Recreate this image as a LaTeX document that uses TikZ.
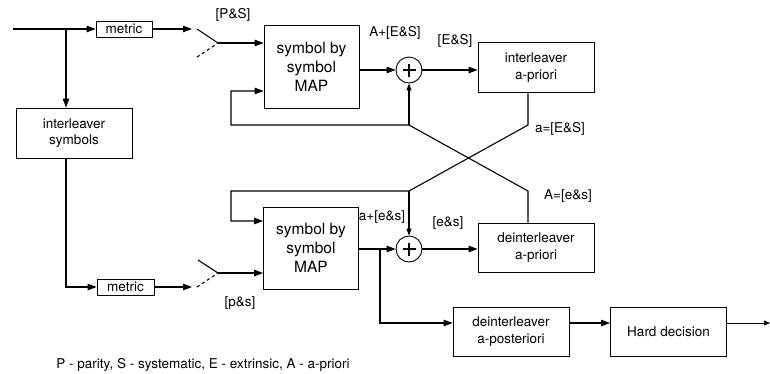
\documentclass[tikz,border=0pt]{standalone}
\usepackage{fontspec}
\setmainfont{TeX Gyre Heros}
\usetikzlibrary{arrows.meta}
\begin{document}
\begin{tikzpicture}[x=1pt,y=-1pt,
  txt/.style={font=\fontsize{13.5}{16.5}\selectfont},
  box/.style={draw, line width=0.8pt, inner sep=0pt, align=center, txt},
  mapbox/.style={box, minimum width=95pt, minimum height=82pt,
                 font=\fontsize{15.5}{19}\selectfont},
  lbl/.style={txt, inner sep=0pt},
  wire/.style={line width=1.1pt},
  arr/.style={wire, -{Triangle[length=9pt,width=6.5pt]}},
  arrs/.style={wire, -{Triangle[length=7pt,width=5pt]}},
  sumnode/.style={draw, circle, line width=0.9pt, minimum size=26pt, inner sep=0pt,
    path picture={\draw[line width=1.4pt]
      ([xshift=-6.5pt]path picture bounding box.center) -- ([xshift=6.5pt]path picture bounding box.center)
      ([yshift=-6.5pt]path picture bounding box.center) -- ([yshift=6.5pt]path picture bounding box.center);}}]
\useasboundingbox (0,0) rectangle (770,373);

% blocks
\node[box, minimum width=56pt, minimum height=16pt] (metricA) at (124,29) {metric};
\node[box, minimum width=57pt, minimum height=16pt] (metricB) at (125.5,287) {metric};
\node[box, minimum width=116pt, minimum height=50pt] (intsym) at (74,133) {interleaver\\symbols};
\node[mapbox, minimum height=83pt] (map1) at (311.5,66.5) {symbol by\\symbol\\MAP};
\node[mapbox] (map2) at (311,248) {symbol by\\symbol\\MAP};
\node[sumnode] (sum1) at (409,70) {};
\node[sumnode] (sum2) at (409,249) {};
\node[box, minimum width=116pt, minimum height=50pt] (intapr) at (536,67.5) {interleaver\\a-priori};
\node[box, minimum width=116pt, minimum height=49pt] (deintapr) at (536,247.5) {deinterleaver\\a-priori};
\node[box, minimum width=116pt, minimum height=49pt] (deintpost) at (511,331.5) {deinterleaver\\a-posteriori};
\node[box, minimum width=116pt, minimum height=49pt] (hard) at (668.5,331.5) {Hard decision};

% helper points
\coordinate (in) at (13,29);
\coordinate (tap1) at (66,29);
\coordinate (sw1in) at (192,29);
\coordinate (s1a) at (197,29);
\coordinate (s1p) at (218,43);
\coordinate (s1b) at (197,57);
\coordinate (sw2in) at (192,287);
\coordinate (s2a) at (198,260);
\coordinate (s2p) at (218,273);
\coordinate (s2b) at (197,287);
\coordinate (j1) at (409,125);
\coordinate (j2) at (409,191);
\coordinate (k1) at (528,125);
\coordinate (k2) at (528,191);
\coordinate (la1) at (231,125);
\coordinate (la2) at (231,91);
\coordinate (lb1) at (231,191);
\coordinate (lb2) at (231,221);
\coordinate (t2) at (380,249);
\coordinate (pr) at (0,323);
\coordinate (out) at (770,323);

% input distribution
\draw[arr] (in) -- (metricA.west);
\draw[arr] (tap1) -- (tap1 |- intsym.north);
\draw[arr] (intsym.south -| tap1) |- (metricB.west);

% upper switch
\draw[arr] (metricA.east) -- (sw1in);
\draw[wire] (s1a) -- (s1p);
\draw[wire, dashed] (s1b) -- (s1p);
\draw[arr] (s1p) -- (s1p -| map1.west);

% lower switch
\draw[arr] (metricB.east) -- (sw2in);
\draw[wire] (s2a) -- (s2p);
\draw[wire, dashed] (s2b) -- (s2p);
\draw[arr] (s2p) -- (s2p -| map2.west);

% upper decoder path
\draw[arr] (map1.east |- sum1) -- (sum1.west);
\draw[arr] (sum1.east) -- (sum1 -| intapr.west);

% lower decoder path
\draw[arr] (map2.east |- sum2) -- (sum2.west);
\draw[arr] (sum2.east) -- (sum2 -| deintapr.west);

% crossed feedback
\draw[arr] (intapr.south -| k1) -- (k1) -- (j2) -- (lb1) -- (lb2) -- (lb2 -| map2.west);
\draw[arrs] (j2) -- (sum2.north);
\draw[arr] (deintapr.north -| k2) -- (k2) -- (j1) -- (la1) -- (la2) -- (la2 -| map1.west);
\draw[arrs] (j1) -- (sum1.south);

% a-posteriori output
\draw[arr] (t2) |- (deintpost.west |- pr);
\draw[arr] (deintpost.east |- pr) -- (hard.west |- pr);
\draw[line width=0.8pt, -{Triangle[length=6pt,width=5pt]}] (hard.east |- pr) -- (out);

% labels
\node[lbl] (lPS) at (233,15) {[P\&S]};
\node[lbl] (lAES) at (395,33) {A+[E\&S]};
\node[lbl] (lES) at (455,41) {[E\&S]};
\node[lbl] (laES) at (560,129) {a=[E\&S]};
\node[lbl] (lAes) at (568,196) {A=[e\&s]};
\node[lbl] (laes) at (382,217) {a+[e\&s]};
\node[lbl] (les) at (448,223) {[e\&s]};
\node[lbl] (lps) at (240,303) {[p\&s]};
\node[lbl] (legend) at (203,365) {P - parity, S - systematic, E - extrinsic, A - a-priori};
\end{tikzpicture}
\end{document}
